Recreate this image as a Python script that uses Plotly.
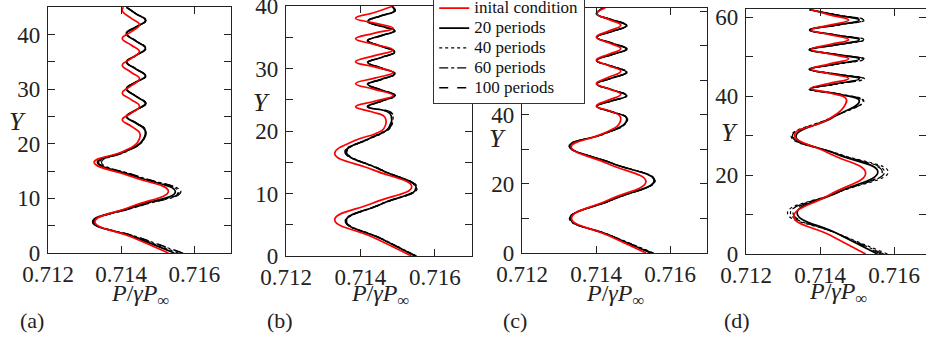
import plotly.graph_objects as go

# ---------------- data ----------------
SERIES = ["inital condition", "20 periods", "40 periods", "60 periods", "100 periods"]
X_TICKS = [0.712, 0.714, 0.716]
X_TICK_TEXT = ["0.712", "0.714", "0.716"]

# panel (a)
A_Y_RED = [0, 2.9, 5.7, 8.5, 11.3, 14.0, 16.6, 18.6, 20.3, 21.9, 23.2, 24.4, 25.6, 26.9, 28.1, 29.3,
           30.6, 31.9, 33.1, 34.4, 35.6, 36.9, 38.1, 39.3, 40.5, 41.8, 43.0, 44.3, 45.0]
A_P_RED = [0.71529, 0.71430, 0.71328, 0.71428, 0.71529, 0.71428, 0.71326, 0.71405, 0.71445, 0.71451,
           0.71428, 0.71403, 0.71427, 0.71450, 0.71427, 0.71403, 0.71427, 0.71450, 0.71427, 0.71403,
           0.71427, 0.71450, 0.71427, 0.71403, 0.71427, 0.71450, 0.71427, 0.71403, 0.71406]
A_Y_BLK = [0, 2.9, 5.7, 8.5, 11.2, 14.0, 16.6, 18.6, 20.4, 22.5, 23.8, 25.0, 26.2, 27.4, 28.7, 30.1,
           31.3, 32.4, 33.7, 35.0, 36.2, 37.5, 38.8, 40.2, 41.4, 42.6, 43.8, 45.0]
A_P_20 = [0.71545, 0.71436, 0.71322, 0.71436, 0.71548, 0.71440, 0.71335, 0.71410, 0.71456, 0.71465,
          0.71440, 0.71414, 0.71440, 0.71466, 0.71440, 0.71414, 0.71440, 0.71466, 0.71440, 0.71414,
          0.71440, 0.71466, 0.71440, 0.71414, 0.71440, 0.71466, 0.71440, 0.71414]
A_P_40 = [0.71556, 0.71441, 0.71324, 0.71441, 0.71556, 0.71446, 0.71341, 0.71413, 0.71457, 0.71466,
          0.71441, 0.71415, 0.71441, 0.71467, 0.71441, 0.71415, 0.71441, 0.71467, 0.71441, 0.71415,
          0.71441, 0.71467, 0.71441, 0.71415, 0.71441, 0.71467, 0.71441, 0.71415]
A_P_60 = [0.71566, 0.71446, 0.71326, 0.71446, 0.71563, 0.71449, 0.71346, 0.71415, 0.71458, 0.71467,
          0.71442, 0.71416, 0.71442, 0.71468, 0.71442, 0.71416, 0.71442, 0.71468, 0.71442, 0.71416,
          0.71442, 0.71468, 0.71442, 0.71416, 0.71442, 0.71468, 0.71442, 0.71416]
A_P_100 = [0.71569, 0.71446, 0.71323, 0.71444, 0.71559, 0.71446, 0.71338, 0.71412, 0.71456, 0.71466,
           0.71441, 0.71415, 0.71441, 0.71467, 0.71441, 0.71415, 0.71441, 0.71467, 0.71441, 0.71415,
           0.71441, 0.71467, 0.71441, 0.71415, 0.71441, 0.71467, 0.71441, 0.71415]

# panel (b)
B_Y_RED = [0, 3.0, 5.8, 8.5, 11.1, 13.8, 16.4, 18.5, 19.6, 20.4, 22.2, 23.1, 23.9, 24.8, 25.7, 26.7,
           27.6, 28.5, 29.4, 30.3, 31.1, 32.1, 33.0, 33.9, 34.8, 35.7, 36.5, 37.3, 38.1, 39.0, 40.0]
B_P_RED = [0.71537, 0.71434, 0.71331, 0.71434, 0.71538, 0.71434, 0.71331, 0.71385, 0.71440, 0.71463,
           0.71466, 0.71430, 0.71387, 0.71438, 0.71488, 0.71438, 0.71387, 0.71438, 0.71488, 0.71438,
           0.71387, 0.71438, 0.71488, 0.71438, 0.71387, 0.71438, 0.71488, 0.71438, 0.71387, 0.71438,
           0.71486]
B_Y_BLK = [0, 2.8, 5.6, 8.3, 10.9, 13.8, 16.7, 18.7, 19.8, 20.6, 22.8, 23.9, 24.8, 25.7, 26.6, 27.5,
           28.3, 29.2, 30.1, 31.0, 31.8, 32.7, 33.6, 34.5, 35.3, 36.1, 36.8, 37.6, 38.5, 39.3, 40.0]
B_P_20 = [0.71548, 0.71455, 0.71361, 0.71455, 0.71550, 0.71455, 0.71361, 0.71420, 0.71460, 0.71478,
          0.71480, 0.71420, 0.71456, 0.71492, 0.71456, 0.71420, 0.71456, 0.71492, 0.71456, 0.71420,
          0.71456, 0.71492, 0.71456, 0.71420, 0.71456, 0.71492, 0.71456, 0.71420, 0.71456, 0.71492,
          0.71485]
B_P_40 = [0.71551, 0.71457, 0.71363, 0.71457, 0.71553, 0.71457, 0.71364, 0.71423, 0.71463, 0.71481,
          0.71484, 0.71422, 0.71458, 0.71494, 0.71458, 0.71422, 0.71458, 0.71494, 0.71458, 0.71422,
          0.71458, 0.71494, 0.71458, 0.71422, 0.71458, 0.71494, 0.71458, 0.71422, 0.71458, 0.71494,
          0.71487]
B_P_60 = [0.71546, 0.71454, 0.71359, 0.71454, 0.71548, 0.71453, 0.71358, 0.71418, 0.71458, 0.71476,
          0.71479, 0.71418, 0.71455, 0.71491, 0.71455, 0.71418, 0.71455, 0.71491, 0.71455, 0.71418,
          0.71455, 0.71491, 0.71455, 0.71418, 0.71455, 0.71491, 0.71455, 0.71418, 0.71455, 0.71491,
          0.71484]
B_P_100 = [0.71550, 0.71456, 0.71362, 0.71456, 0.71552, 0.71456, 0.71362, 0.71421, 0.71461, 0.71480,
           0.71486, 0.71421, 0.71457, 0.71493, 0.71457, 0.71421, 0.71457, 0.71493, 0.71457, 0.71421,
           0.71457, 0.71493, 0.71457, 0.71421, 0.71457, 0.71493, 0.71457, 0.71421, 0.71457, 0.71493,
           0.71486]

# panel (c)
C_Y_RED = [0, 5.0, 10.1, 15.4, 20.7, 25.8, 30.8, 34.3, 37.3, 39.6, 41.2, 42.6, 44.3, 46.0, 47.6,
           49.1, 50.9, 52.7, 54.3, 55.9, 57.6, 59.2, 60.9, 62.6, 64.3, 66.0, 67.7, 69.4, 71.0]
C_P_RED = [0.71535, 0.71435, 0.71334, 0.71435, 0.71535, 0.71434, 0.71333, 0.71412, 0.71462, 0.71465,
           0.71435, 0.71401, 0.71434, 0.71467, 0.71434, 0.71401, 0.71434, 0.71467, 0.71434, 0.71401,
           0.71434, 0.71467, 0.71434, 0.71401, 0.71434, 0.71467, 0.71434, 0.71401, 0.71425]
C_Y_BLK = [0, 5.0, 10.0, 15.5, 21.0, 26.0, 31.0, 34.5, 37.5, 39.2, 40.9, 42.5, 44.1, 45.6, 47.3,
           49.0, 50.7, 52.4, 54.1, 55.8, 57.5, 59.1, 60.8, 62.5, 64.2, 65.9, 67.6, 69.3, 71.0]
C_P_20 = [0.71548, 0.71440, 0.71331, 0.71445, 0.71557, 0.71443, 0.71329, 0.71420, 0.71478, 0.71482,
          0.71443, 0.71402, 0.71443, 0.71482, 0.71443, 0.71402, 0.71443, 0.71482, 0.71443, 0.71402,
          0.71443, 0.71482, 0.71443, 0.71402, 0.71443, 0.71482, 0.71443, 0.71402, 0.71420]
C_P_40 = [0.71556, 0.71442, 0.71328, 0.71447, 0.71560, 0.71445, 0.71327, 0.71422, 0.71480, 0.71484,
          0.71444, 0.71403, 0.71444, 0.71484, 0.71444, 0.71403, 0.71444, 0.71484, 0.71444, 0.71403,
          0.71444, 0.71484, 0.71444, 0.71403, 0.71444, 0.71484, 0.71444, 0.71403, 0.71421]
C_P_60 = [0.71553, 0.71441, 0.71330, 0.71446, 0.71558, 0.71444, 0.71330, 0.71421, 0.71479, 0.71483,
          0.71443, 0.71401, 0.71443, 0.71483, 0.71443, 0.71401, 0.71443, 0.71483, 0.71443, 0.71401,
          0.71443, 0.71483, 0.71443, 0.71401, 0.71443, 0.71483, 0.71443, 0.71401, 0.71419]
C_P_100 = [0.71551, 0.71441, 0.71329, 0.71446, 0.71559, 0.71444, 0.71328, 0.71421, 0.71479, 0.71483,
           0.71444, 0.71402, 0.71444, 0.71483, 0.71444, 0.71402, 0.71444, 0.71483, 0.71444, 0.71402,
           0.71444, 0.71483, 0.71444, 0.71402, 0.71444, 0.71483, 0.71444, 0.71402, 0.71420]

# panel (d)
D_Y_RED = [0, 4.8, 9.5, 15.0, 20.5, 25.4, 30.2, 34.0, 37.4, 39.4, 40.8, 42.0, 43.25, 44.5, 45.7,
           46.9, 48.2, 49.5, 50.7, 51.9, 53.1, 54.3, 55.6, 56.8, 58.0, 59.3, 60.6, 61.9]
D_P_RED = [0.71523, 0.71426, 0.71329, 0.71426, 0.71523, 0.71427, 0.71331, 0.71420, 0.71465, 0.71470,
           0.71426, 0.71376, 0.71426, 0.71477, 0.71426, 0.71376, 0.71426, 0.71477, 0.71426, 0.71376,
           0.71426, 0.71477, 0.71426, 0.71376, 0.71426, 0.71477, 0.71426, 0.71376]
D_Y_BLK = [0, 5.2, 10.4, 15.6, 20.8, 25.3, 29.8, 34.5, 38.8, 40.5, 41.8, 43.1, 44.4, 45.6, 46.8,
           48.1, 49.4, 50.6, 51.8, 53.0, 54.3, 55.5, 56.8, 58.0, 59.3, 60.6, 61.9]
D_P_20 = [0.71555, 0.71446, 0.71338, 0.71447, 0.71556, 0.71445, 0.71335, 0.71432, 0.71506, 0.71450,
          0.71373, 0.71440, 0.71506, 0.71440, 0.71373, 0.71440, 0.71506, 0.71440, 0.71373, 0.71440,
          0.71506, 0.71440, 0.71373, 0.71440, 0.71506, 0.71440, 0.71373]
D_P_40 = [0.71582, 0.71447, 0.71312, 0.71448, 0.71584, 0.71453, 0.71322, 0.71428, 0.71518, 0.71455,
          0.71371, 0.71446, 0.71520, 0.71446, 0.71371, 0.71446, 0.71520, 0.71446, 0.71371, 0.71446,
          0.71520, 0.71446, 0.71371, 0.71446, 0.71520, 0.71446, 0.71371]
D_P_60 = [0.71572, 0.71446, 0.71320, 0.71447, 0.71574, 0.71450, 0.71325, 0.71430, 0.71516, 0.71455,
          0.71370, 0.71445, 0.71518, 0.71445, 0.71370, 0.71445, 0.71518, 0.71445, 0.71370, 0.71445,
          0.71518, 0.71445, 0.71370, 0.71445, 0.71518, 0.71445, 0.71370]
D_P_100 = [0.71565, 0.71446, 0.71327, 0.71448, 0.71568, 0.71448, 0.71328, 0.71430, 0.71512, 0.71452,
           0.71372, 0.71443, 0.71513, 0.71443, 0.71372, 0.71443, 0.71513, 0.71443, 0.71372, 0.71443,
           0.71513, 0.71443, 0.71372, 0.71443, 0.71513, 0.71443, 0.71372]

# ---------------- layout helpers ----------------
W, H = 926, 341
FONT = "Liberation Serif"
INK = "#222"

panels = [
    dict(lab="(a)", yr=A_Y_RED, pr=A_P_RED, yb=A_Y_BLK, pb=[A_P_20, A_P_40, A_P_60, A_P_100],
         box=(48, 231, 7, 253), yrange=[0, 45.05], ystep=5, ylab_every=10, xmax=0.717,
         ytitle=(17, 121), xtitle=(140, 295), plab=(32, 320)),
    dict(lab="(b)", yr=B_Y_RED, pr=B_P_RED, yb=B_Y_BLK, pb=[B_P_20, B_P_40, B_P_60, B_P_100],
         box=(286, 472, 6, 256), yrange=[0, 40.05], ystep=5, ylab_every=10, xmax=0.717,
         ytitle=(261, 103), xtitle=(380, 295), plab=(280, 320)),
    dict(lab="(c)", yr=C_Y_RED, pr=C_P_RED, yb=C_Y_BLK, pb=[C_P_20, C_P_40, C_P_60, C_P_100],
         box=(522, 707, 8, 253), yrange=[0, 71], ystep=10, ylab_every=20, xmax=0.717,
         ytitle=(497, 138), xtitle=(615, 295), plab=(515, 320)),
    dict(lab="(d)", yr=D_Y_RED, pr=D_P_RED, yb=D_Y_BLK, pb=[D_P_20, D_P_40, D_P_60, D_P_100],
         box=(746, 926, 9, 254), yrange=[0, 62.1], ystep=10, ylab_every=20, xmax=0.71686,
         ytitle=(729, 132), xtitle=(838, 293), plab=(737, 320)),
]

black_styles = [
    dict(dash="solid", width=1.7),
    dict(dash="dot", width=1.2),
    dict(dash="dashdot", width=1.2),
    dict(dash="dash", width=1.3),
]

def legend_name(s):
    return "<span style='font-size:17px'>" + s + "</span>"

fig = go.Figure()
annotations = []
layout = {}

for i, p in enumerate(panels):
    k = "" if i == 0 else str(i + 1)
    xa, ya = "x" + k, "y" + k
    first = (i == 0)
    for j, (pv, st) in enumerate(zip(p["pb"], black_styles)):
        fig.add_trace(go.Scatter(
            x=pv, y=p["yb"], mode="lines", xaxis=xa, yaxis=ya,
            line=dict(color="black", width=st["width"], dash=st["dash"], shape="spline", smoothing=1.3),
            name=legend_name(SERIES[j + 1]), showlegend=first, legendrank=j + 2))
    fig.add_trace(go.Scatter(
        x=p["pr"], y=p["yr"], mode="lines", xaxis=xa, yaxis=ya,
        line=dict(color="#ff0000", width=1.7, shape="spline", smoothing=1.3),
        name=legend_name(SERIES[0]), showlegend=first, legendrank=1))

    l, r, t, b = p["box"]
    ymax = p["yrange"][1]
    yt = []
    v = 0
    while v <= ymax + 1e-9:
        yt.append(v)
        v += p["ystep"]
    ytxt = [str(int(v)) if v % p["ylab_every"] == 0 else "" for v in yt]
    axcommon = dict(showline=True, linecolor=INK, linewidth=1.2, mirror="ticks",
                    ticks="inside", ticklen=7, tickwidth=1.2, tickcolor=INK,
                    showgrid=False, zeroline=False, ticklabeloverflow="allow",
                    tickfont=dict(family=FONT, size=23, color=INK))
    layout["xaxis" + k] = dict(domain=[l / W, r / W], range=[0.712, p["xmax"]], anchor=ya,
                               tickvals=X_TICKS, ticktext=X_TICK_TEXT, **axcommon)
    layout["yaxis" + k] = dict(domain=[1 - b / H, 1 - t / H], range=p["yrange"], anchor=xa,
                               tickvals=yt, ticktext=ytxt, ticklabelstandoff=2, **axcommon)

    tx, ty = p["ytitle"]
    annotations.append(dict(text="<i>Y</i>", x=tx / W, y=1 - ty / H, xref="paper", yref="paper",
                            showarrow=False, xanchor="center", yanchor="middle",
                            font=dict(family=FONT, size=26, color=INK)))
    tx, ty = p["xtitle"]
    annotations.append(dict(text="<i>P</i>/<i>γP</i><sub>∞</sub>", x=tx / W, y=1 - ty / H,
                            xref="paper", yref="paper", showarrow=False,
                            xanchor="center", yanchor="middle",
                            font=dict(family=FONT, size=24, color=INK)))
    tx, ty = p["plab"]
    annotations.append(dict(text=p["lab"], x=tx / W, y=1 - ty / H, xref="paper", yref="paper",
                            showarrow=False, xanchor="center", yanchor="middle",
                            font=dict(family=FONT, size=22, color=INK)))

fig.update_layout(
    width=W, height=H, margin=dict(l=0, r=0, t=0, b=0, autoexpand=False),
    paper_bgcolor="white", plot_bgcolor="white",
    font=dict(family=FONT, color=INK),
    annotations=annotations,
    legend=dict(x=433 / W, y=1 + 8 / H, xanchor="left", yanchor="top",
                bgcolor="white", bordercolor="#333", borderwidth=1.2,
                font=dict(family=FONT, size=13, color="#111"),
                itemwidth=30, tracegroupgap=0),
    **layout,
)

fig.write_html("out.html")
